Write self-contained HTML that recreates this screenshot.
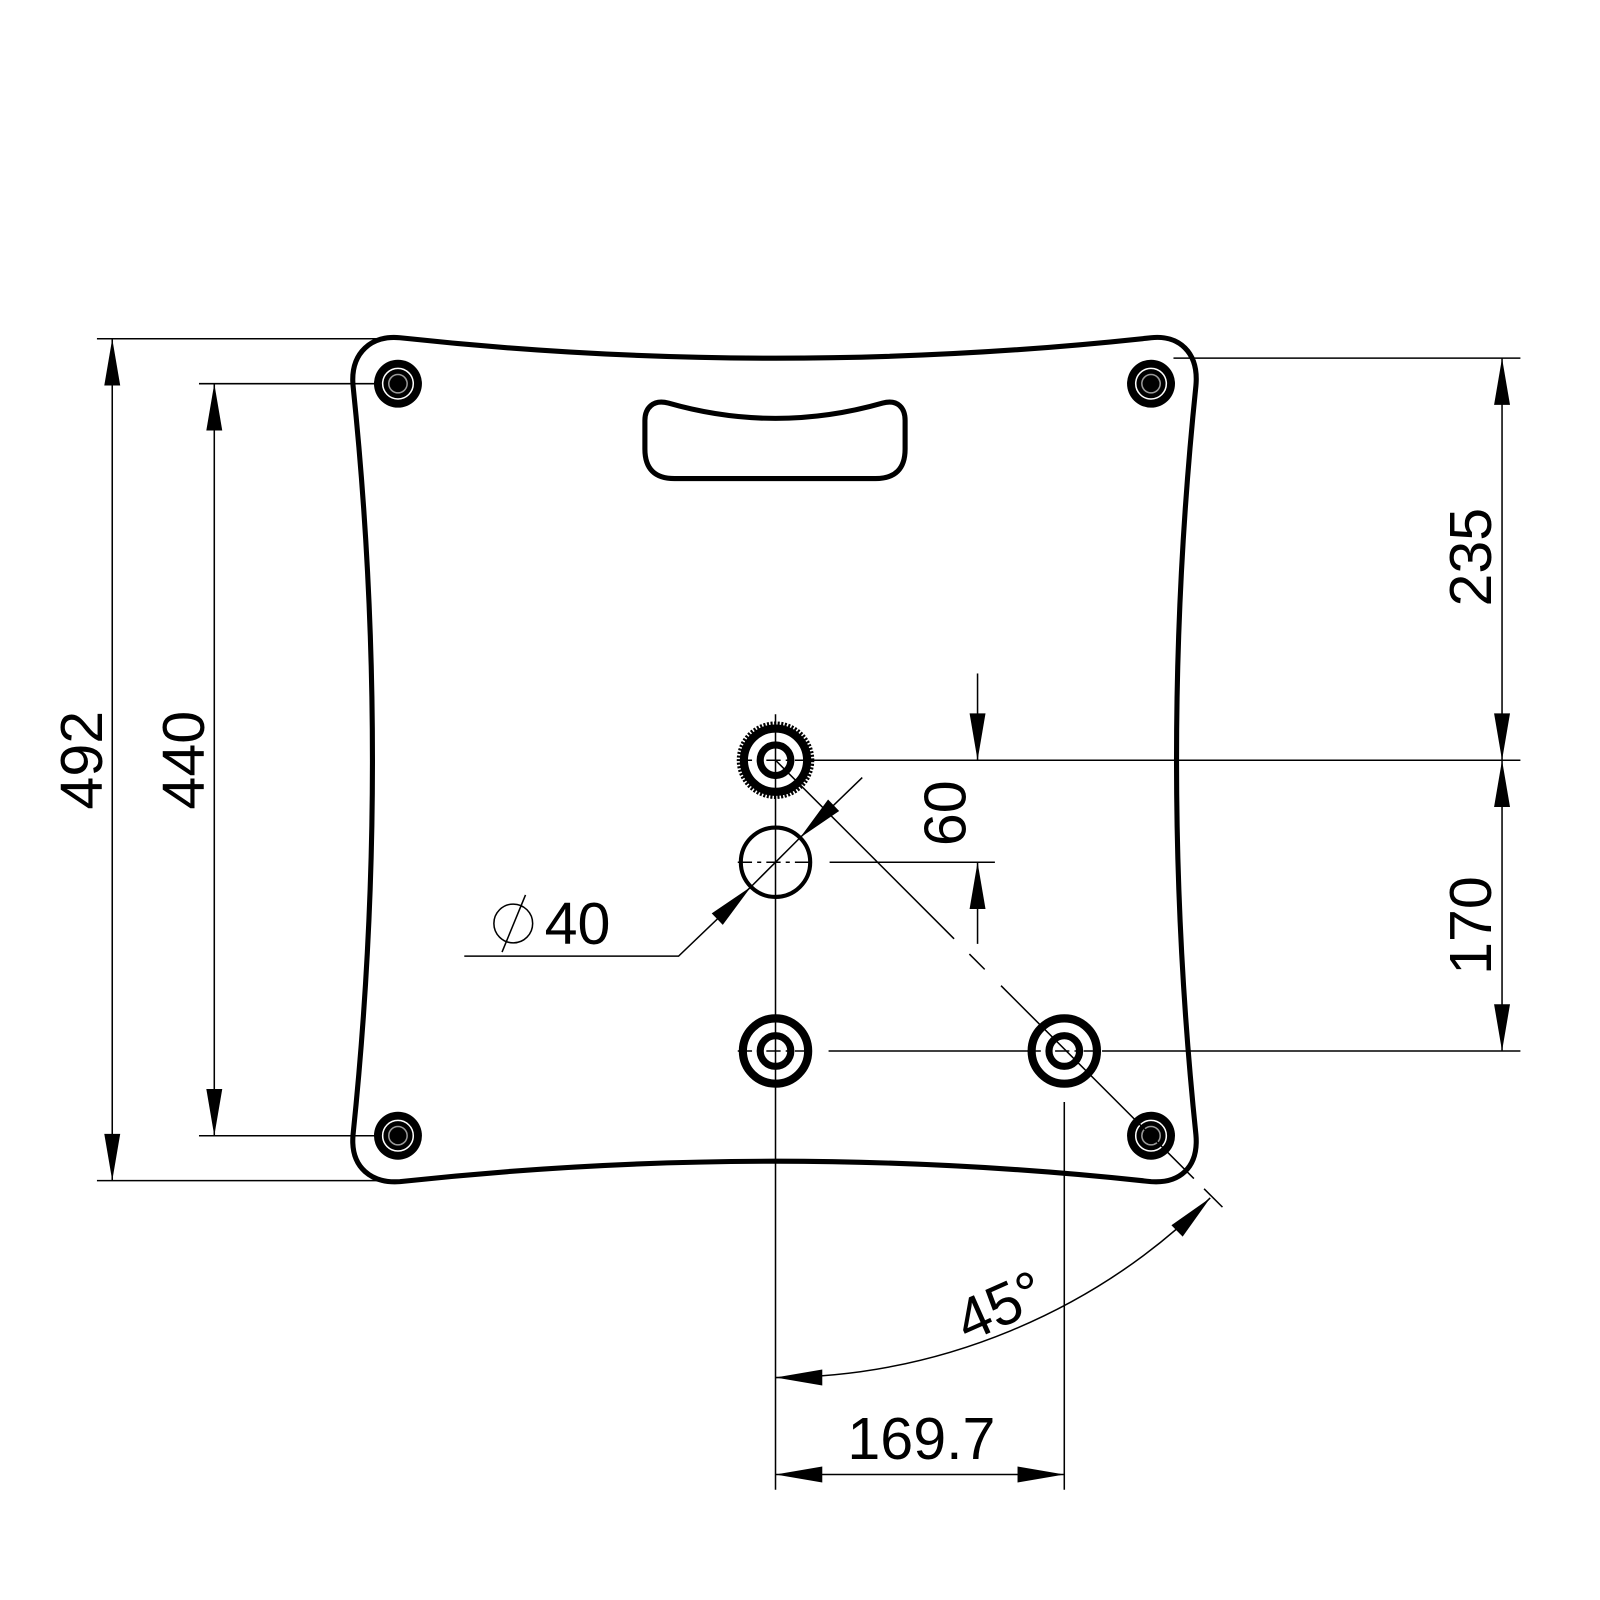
<!DOCTYPE html>
<html><head><meta charset="utf-8"><style>html,body{margin:0;padding:0;background:#fff}svg{display:block}</style></head>
<body>
<svg width="1600" height="1600" viewBox="0 0 1568 1568" xmlns="http://www.w3.org/2000/svg" font-family="Liberation Sans, Arial, sans-serif">
<defs>
<marker id="a" markerUnits="userSpaceOnUse" markerWidth="50" markerHeight="20" viewBox="-46 -8 48 16" refX="0" refY="0" orient="auto-start-reverse">
<path d="M0,0 L-44,-7.5 L-44,7.5 Z" fill="#000"/>
</marker>
</defs>
<rect width="1568" height="1568" fill="#fff"/>
<path d="M392,331 Q760,371 1128,331 C1155,328 1175,345 1172,378 Q1134,745 1172,1112 C1175,1145 1155,1160 1128,1158 Q760,1118 392,1158 C365,1160 343,1145 346,1112 Q384,745 346,378 C343,345 365,328 392,331 Z" fill="none" stroke="#000" stroke-width="5"/>
<path d="M655,395 Q760,425 865,395 C880,391 887,400 887,412 L887,440 Q887,469 858,469 L661,469 Q632,469 632,440 L632,412 C632,400 640,391 655,395 Z" fill="none" stroke="#000" stroke-width="5"/>
<g>
<circle cx="390" cy="376" r="23.5"/><circle cx="390" cy="376" r="15" fill="none" stroke="#fff" stroke-width="1.5"/><circle cx="390" cy="376" r="9" fill="none" stroke="#999" stroke-width="1.5"/>
<circle cx="1128" cy="376" r="23.5"/><circle cx="1128" cy="376" r="15" fill="none" stroke="#fff" stroke-width="1.5"/><circle cx="1128" cy="376" r="9" fill="none" stroke="#999" stroke-width="1.5"/>
<circle cx="390" cy="1113" r="23.5"/><circle cx="390" cy="1113" r="15" fill="none" stroke="#fff" stroke-width="1.5"/><circle cx="390" cy="1113" r="9" fill="none" stroke="#999" stroke-width="1.5"/>
<circle cx="1128" cy="1113" r="23.5"/><circle cx="1128" cy="1113" r="15" fill="none" stroke="#fff" stroke-width="1.5"/><circle cx="1128" cy="1113" r="9" fill="none" stroke="#999" stroke-width="1.5"/>
</g>
<g stroke="#000" stroke-width="1.5" fill="none">
<line x1="95" y1="332" x2="372" y2="332"/>
<line x1="95" y1="1157" x2="372" y2="1157"/>
<line x1="195" y1="376" x2="368" y2="376"/>
<line x1="195" y1="1113" x2="368" y2="1113"/>
<line x1="1150" y1="351" x2="1490" y2="351"/>
<line x1="795" y1="745" x2="1490" y2="745"/>
<line x1="812" y1="1030" x2="1006" y2="1030"/>
<line x1="1080" y1="1030" x2="1490" y2="1030"/>
<line x1="813" y1="845" x2="975" y2="845"/>
<line x1="760" y1="700" x2="760" y2="1460"/>
<line x1="1043" y1="1080" x2="1043" y2="1460"/>
<line x1="723" y1="845" x2="797" y2="845" stroke-dasharray="14 5 4 5"/>
<line x1="723" y1="1030" x2="797" y2="1030" stroke-dasharray="14 5 4 5"/>
<line x1="1006" y1="1030" x2="1080" y2="1030" stroke-dasharray="14 5 4 5"/>
<line x1="723" y1="745" x2="797" y2="745" stroke-dasharray="14 5 4 5"/>
<line x1="760" y1="745" x2="935" y2="920"/>
<line x1="950" y1="935" x2="965" y2="950"/>
<line x1="981" y1="966" x2="1170" y2="1155"/>
<line x1="1180" y1="1165" x2="1198" y2="1183"/>
<line x1="110" y1="332" x2="110" y2="1157" marker-start="url(#a)" marker-end="url(#a)"/>
<line x1="210" y1="376" x2="210" y2="1113" marker-start="url(#a)" marker-end="url(#a)"/>
<line x1="1472" y1="351" x2="1472" y2="745" marker-start="url(#a)" marker-end="url(#a)"/>
<line x1="1472" y1="745" x2="1472" y2="1030" marker-start="url(#a)" marker-end="url(#a)"/>
<line x1="958" y1="660" x2="958" y2="745" marker-end="url(#a)"/>
<line x1="958" y1="925" x2="958" y2="845" marker-end="url(#a)"/>
<line x1="760" y1="1445" x2="1043" y2="1445" marker-start="url(#a)" marker-end="url(#a)"/>
<path d="M760,1350 A605,605 0 0 0 1186,1174" marker-start="url(#a)" marker-end="url(#a)"/>
<polyline points="455,937 665,937 736,869" marker-end="url(#a)"/>
<line x1="845" y1="762" x2="784" y2="821" marker-end="url(#a)"/>
<line x1="736" y1="869" x2="784" y2="821"/>
<circle cx="503" cy="905" r="19"/>
<line x1="492" y1="933" x2="515" y2="877"/>
</g>
<g fill="none" stroke="#000">
<circle cx="760" cy="745" r="36" stroke-width="4" stroke-dasharray="2 1.5"/>
<circle cx="760" cy="745" r="31" stroke-width="8"/>
<circle cx="760" cy="745" r="15" stroke-width="7"/>
<circle cx="760" cy="845" r="34" stroke-width="4"/>
<circle cx="760" cy="1030" r="32" stroke-width="8"/>
<circle cx="760" cy="1030" r="15" stroke-width="7"/>
<circle cx="1043" cy="1030" r="32" stroke-width="8"/>
<circle cx="1043" cy="1030" r="15" stroke-width="7"/>
</g>
<g font-size="58" fill="#000" text-anchor="middle">
<text x="100" y="745" transform="rotate(-90 100 745)">492</text>
<text x="200" y="745" transform="rotate(-90 200 745)">440</text>
<text x="1461" y="546" transform="rotate(-90 1461 546)">235</text>
<text x="1461" y="907" transform="rotate(-90 1461 907)">170</text>
<text x="946" y="797" transform="rotate(-90 946 797)">60</text>
<text x="903" y="1430">169.7</text>
<text x="566" y="925">40</text>
<text x="988" y="1298" transform="rotate(-24 988 1298)">45°</text>
</g>
</svg>
</body></html>
